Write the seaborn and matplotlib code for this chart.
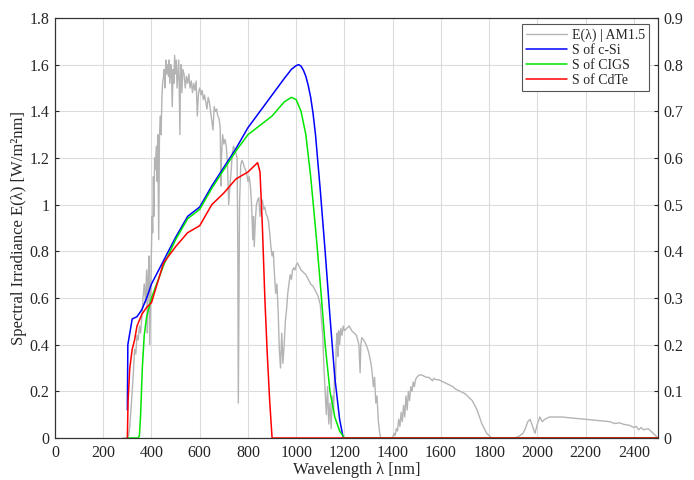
import numpy as np
import pandas as pd
import matplotlib
matplotlib.use("Agg")
import matplotlib.pyplot as plt
import seaborn as sns

# ---------------- data ----------------
am15_wl = [280, 290, 300, 305, 310, 315, 320, 325, 330, 335, 340, 345, 350, 355, 360, 365, 370, 375,
           380, 383, 386, 390, 393, 396, 400, 403, 405, 408, 410, 413, 416, 420, 423, 426, 430, 433,
           436, 440, 443, 446, 450, 453, 456, 460, 463, 466, 470, 473, 476, 480, 483, 486, 490, 493,
           496, 500, 503, 506, 510, 513, 516, 518, 520, 523, 526, 530, 535, 540, 545, 550, 555, 560,
           565, 570, 575, 580, 585, 590, 595, 600, 605, 610, 615, 620, 625, 630, 635, 640, 645, 650,
           655, 660, 665, 670, 675, 680, 685, 688, 690, 695, 700, 705, 710, 715, 720, 725, 730, 735,
           740, 745, 750, 755, 758, 760, 762, 765, 770, 775, 780, 785, 790, 795, 800, 805, 810, 815,
           820, 823, 826, 830, 835, 840, 845, 850, 855, 860, 865, 870, 875, 880, 885, 890, 895, 900,
           905, 910, 915, 920, 925, 930, 935, 940, 945, 950, 955, 960, 965, 970, 975, 980, 985, 990,
           995, 1000, 1005, 1010, 1015, 1020, 1030, 1040, 1050, 1060, 1070, 1080, 1090, 1100, 1105,
           1110, 1115, 1120, 1125, 1130, 1135, 1140, 1145, 1150, 1155, 1160, 1163, 1166, 1170, 1173,
           1176, 1180, 1185, 1190, 1195, 1200, 1210, 1220, 1230, 1240, 1250, 1260, 1265, 1268, 1272,
           1280, 1290, 1300, 1310, 1315, 1320, 1325, 1330, 1335, 1340, 1345, 1350, 1400, 1405, 1410,
           1415, 1420, 1425, 1430, 1435, 1440, 1445, 1450, 1455, 1460, 1465, 1470, 1475, 1480, 1485,
           1490, 1495, 1500, 1510, 1520, 1530, 1540, 1550, 1560, 1565, 1570, 1580, 1590, 1600, 1610,
           1620, 1630, 1640, 1650, 1660, 1670, 1680, 1690, 1700, 1710, 1720, 1730, 1740, 1750, 1760,
           1770, 1780, 1790, 1800, 1810, 1900, 1920, 1940, 1950, 1960, 1970, 1980, 1990, 2000, 2010,
           2020, 2030, 2050, 2100, 2150, 2200, 2250, 2300, 2320, 2340, 2360, 2380, 2400, 2410, 2420,
           2430, 2440, 2460, 2480, 2490, 2500]
am15_E = [0, 0, 0.002, 0.01, 0.05, 0.12, 0.20, 0.28, 0.38, 0.36, 0.44, 0.42, 0.48, 0.45, 0.52, 0.60, 0.66, 0.58,
          0.72, 0.45, 0.68, 0.78, 0.40, 0.58, 0.82, 0.95, 0.88, 1.12, 0.95, 1.20, 1.15, 1.25, 1.10, 1.30, 0.85, 1.28,
          1.38, 1.30, 1.45, 1.52, 1.55, 1.58, 1.50, 1.62, 1.56, 1.60, 1.55, 1.62, 1.52, 1.60, 1.56, 1.42, 1.58, 1.52,
          1.64, 1.56, 1.62, 1.50, 1.57, 1.62, 1.42, 1.30, 1.55, 1.60, 1.48, 1.58, 1.56, 1.50, 1.55, 1.52, 1.56, 1.50,
          1.53, 1.48, 1.52, 1.49, 1.53, 1.38, 1.48, 1.50, 1.47, 1.49, 1.45, 1.47, 1.44, 1.41, 1.46, 1.44, 1.40, 1.36,
          1.32, 1.42, 1.40, 1.41, 1.38, 1.37, 1.33, 1.08, 1.20, 1.30, 1.26, 1.28, 1.25, 1.18, 1.00, 1.08, 1.14, 1.22,
          1.25, 1.24, 1.22, 1.20, 0.80, 0.15, 0.50, 1.00, 1.17, 1.19, 1.18, 1.16, 1.15, 1.13, 1.10, 1.12, 1.08, 1.00,
          0.85, 0.95, 0.82, 0.92, 1.00, 1.02, 1.03, 0.95, 1.00, 1.02, 0.98, 0.99, 0.96, 0.95, 0.93, 0.88, 0.82, 0.78,
          0.80, 0.70, 0.62, 0.66, 0.55, 0.38, 0.30, 0.45, 0.32, 0.40, 0.50, 0.55, 0.62, 0.66, 0.70, 0.68, 0.72, 0.73,
          0.72, 0.74, 0.75, 0.74, 0.73, 0.72, 0.71, 0.70, 0.68, 0.66, 0.65, 0.63, 0.61, 0.57, 0.50,
          0.44, 0.30, 0.20, 0.10, 0.22, 0.06, 0.15, 0.04, 0.18, 0.12, 0.30, 0.25, 0.40, 0.45, 0.35,
          0.46, 0.40, 0.47, 0.44, 0.48, 0.46, 0.47, 0.48, 0.46, 0.45, 0.44, 0.40, 0.28, 0.40, 0.43,
          0.42, 0.40, 0.37, 0.32, 0.28, 0.22, 0.26, 0.15, 0.18, 0.08, 0.03, 0.0, 0.0, 0.02, 0.01,
          0.04, 0.03, 0.08, 0.05, 0.11, 0.07, 0.14, 0.09, 0.18, 0.12, 0.20, 0.16, 0.22, 0.20, 0.24,
          0.22, 0.25, 0.26, 0.27, 0.27, 0.265, 0.26, 0.26, 0.25, 0.245, 0.255, 0.25, 0.25, 0.245, 0.24,
          0.235, 0.23, 0.225, 0.22, 0.21, 0.205, 0.20, 0.195, 0.19, 0.18, 0.17, 0.16, 0.14, 0.12, 0.09,
          0.06, 0.04, 0.02, 0.01, 0.0, 0.0, 0.005, 0.02, 0.04, 0.07, 0.08, 0.05, 0.02, 0.06, 0.09,
          0.07, 0.08, 0.09, 0.09, 0.085, 0.08, 0.075, 0.07, 0.062, 0.065, 0.058, 0.055, 0.045, 0.05, 0.035,
          0.045, 0.035, 0.04, 0.02, 0.01, 0.0]

csi_wl = [300, 302, 320, 340, 360, 380, 400, 450, 500, 550, 600, 650, 700, 750, 800, 850, 900, 950,
          980, 1000, 1010, 1020, 1030, 1040, 1050, 1060, 1070, 1080, 1100, 1120, 1140, 1160, 1180, 1195, 2500]
csi_S = [0.06, 0.20, 0.255, 0.26, 0.275, 0.30, 0.33, 0.38, 0.43, 0.475, 0.495, 0.54, 0.58, 0.62, 0.665,
         0.70, 0.735, 0.77, 0.79, 0.798, 0.80, 0.797, 0.788, 0.775, 0.755, 0.73, 0.695, 0.65, 0.53, 0.40,
         0.26, 0.13, 0.04, 0.0, 0.0]

cigs_wl = [300, 345, 350, 355, 362, 370, 380, 400, 450, 500, 550, 600, 650, 700, 750, 800, 850, 900,
           950, 980, 1000, 1020, 1040, 1060, 1080, 1100, 1120, 1140, 1160, 1180, 1200, 2500]
cigs_S = [0.0, 0.0, 0.005, 0.05, 0.15, 0.22, 0.26, 0.30, 0.37, 0.425, 0.47, 0.49, 0.535, 0.575, 0.615,
          0.65, 0.67, 0.69, 0.72, 0.73, 0.725, 0.70, 0.65, 0.56, 0.45, 0.33, 0.20, 0.10, 0.045, 0.015, 0.0, 0.0]

cdte_wl = [300, 303, 310, 320, 330, 340, 360, 380, 400, 450, 500, 550, 600, 650, 700, 750, 800, 830,
           840, 850, 860, 870, 880, 890, 900, 2500]
cdte_S = [0.0, 0.08, 0.15, 0.19, 0.21, 0.24, 0.265, 0.28, 0.29, 0.375, 0.41, 0.44, 0.455, 0.50, 0.525,
          0.555, 0.57, 0.585, 0.59, 0.57, 0.45, 0.30, 0.18, 0.08, 0.0, 0.0]

x_ticks = [0, 200, 400, 600, 800, 1000, 1200, 1400, 1600, 1800, 2000, 2200, 2400]
y_left_ticks = [0, 0.2, 0.4, 0.6, 0.8, 1.0, 1.2, 1.4, 1.6, 1.8]
y_right_ticks = [0, 0.1, 0.2, 0.3, 0.4, 0.5, 0.6, 0.7, 0.8, 0.9]

# ---------------- style ----------------
sns.set_theme(style="whitegrid")
plt.rcParams['font.family'] = ['Liberation Serif', 'DejaVu Serif']
FS = 11.5

fig = plt.figure(figsize=(6.94, 4.80), dpi=100)
ax = fig.add_axes([55/694, 1 - 438/480, (658 - 55)/694, (438 - 18)/480])
ax2 = ax.twinx()

sns.lineplot(x=am15_wl, y=am15_E, ax=ax, color='#b4b4b4', lw=1.0, estimator=None, label='E(λ) | AM1.5', legend=False)
sns.lineplot(x=csi_wl, y=csi_S, ax=ax2, color='#0000ff', lw=1.1, estimator=None, label='S of c-Si', legend=False)
sns.lineplot(x=cigs_wl, y=cigs_S, ax=ax2, color='#00e600', lw=1.1, estimator=None, label='S of CIGS', legend=False)
sns.lineplot(x=cdte_wl, y=cdte_S, ax=ax2, color='#ff0000', lw=1.1, estimator=None, label='S of CdTe', legend=False)

ax.set_xlim(0, 2500)
ax.set_ylim(0, 1.8)
ax2.set_ylim(0, 0.9)
ax.set_xticks(x_ticks)
ax.set_yticks(y_left_ticks)
ax2.set_yticks(y_right_ticks)
ax.set_xticklabels([str(t) for t in x_ticks])
ax.set_yticklabels(['0' if t == 0 else ('1' if t == 1 else f'{t:.1f}') for t in y_left_ticks])
ax2.set_yticklabels(['0' if t == 0 else f'{t:.1f}' for t in y_right_ticks])

ax.grid(True, color='#dcdcdc', lw=0.8)
ax2.grid(False)
for a in (ax, ax2):
    a.set_facecolor('none')
    for s in a.spines.values():
        s.set_color('#333333')
        s.set_linewidth(0.8)
    a.tick_params(direction='in', length=3, width=0.8, colors='#262626', labelsize=FS, pad=4)
ax.tick_params(axis='x', pad=5)
ax.set_zorder(1)
ax2.set_zorder(2)

ax.set_xlabel('Wavelength λ [nm]', fontsize=FS + 0.5, labelpad=1, color='#262626')
ax.set_ylabel('Spectral Irradiance E(λ) [W/m²nm]', fontsize=FS + 0.5, labelpad=2, color='#262626')
ax2.set_ylabel('Spectral Response S [A/W]', fontsize=FS + 0.5, labelpad=8, color='#262626')

h1, l1 = ax.get_legend_handles_labels()
h2, l2 = ax2.get_legend_handles_labels()
leg = ax2.legend(h1 + h2, l1 + l2, loc='upper right', bbox_to_anchor=(0.985, 0.985), fontsize=10,
                 frameon=True, fancybox=False, edgecolor='#555555', framealpha=1,
                 handlelength=3.0, handletextpad=0.3, labelspacing=0.15, borderpad=0.3, borderaxespad=0)
leg.get_frame().set_linewidth(0.8)

fig.savefig('out.png', dpi=100)
